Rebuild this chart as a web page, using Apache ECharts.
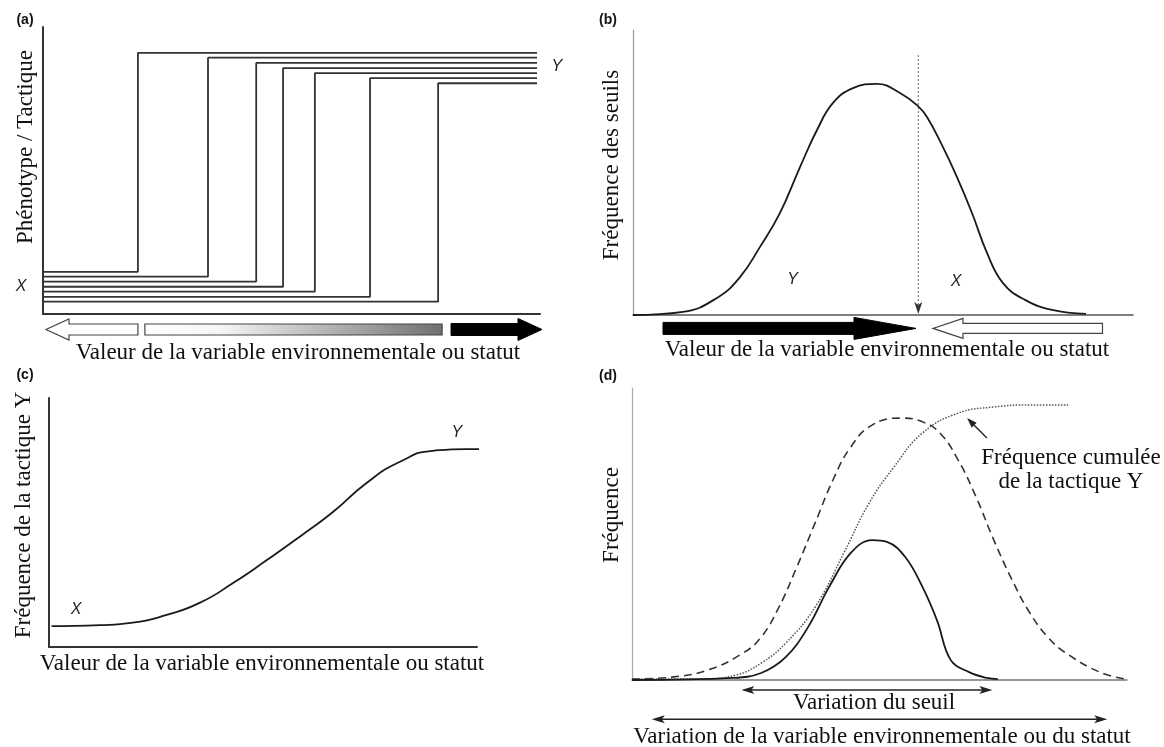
<!DOCTYPE html>
<html><head><meta charset="utf-8">
<script src="https://cdn.jsdelivr.net/npm/echarts@6/dist/echarts.min.js"></script>
<style>html,body{margin:0;padding:0;background:#fff}#chart{width:1164px;height:747px}</style>
</head><body><div id="chart"></div>
<script>
// ---------- Panel (a): step reaction norms ----------
const aThresholds = [19.1, 33.2, 42.9, 48.3, 54.7, 65.8, 79.5];
const aLowLevels  = [14.7, 13.0, 11.3, 9.5, 7.8, 6.0, 4.3];
const aHighLevels = [91.0, 89.3, 87.5, 85.7, 83.9, 82.2, 80.4];
const aLineEnd = 99.4;
const aArrowWhite = [19.1, 0.6];   // [tail, tip]
const aGradientBar = [20.5, 80.3];
const aArrowBlack = [82.1, 100.4];
const aArrowLevel = -5.4;
const aLetters = ['X', 'Y'];
const aLetterX = [-4.4, 103.4];
const aLetterY = [9.4, 86.1];

// ---------- Panel (b): threshold frequency ----------
const bCurveX = [0, 10, 16.8, 21.4, 25.4, 29.4, 33.4, 36.8, 40, 44, 48.8, 53.4, 57, 58.8, 61.8, 64.8, 67.8, 70.8, 74, 78.4, 83.8, 90.6];
const bCurveY = [0, 1.1, 6, 13.3, 23.9, 35.8, 51.9, 64.9, 74.4, 79.6, 81.1, 77.9, 73.3, 69.5, 59.6, 48.4, 35.8, 21.8, 11.2, 5.3, 1.8, 0.4];
const bThreshold = [57.06, 91.2, 0]; // x, top, bottom
const bArrowBlack = [6, 56.6];
const bArrowWhite = [93.9, 60];
const bArrowLevel = -4.7;
const bLetters = ['Y', 'X'];
const bLetterX = [31.9, 64.6];
const bLetterY = [12.3, 11.7];

// ---------- Panel (c): frequency of tactic Y ----------
const cCurveX = [0.6, 11.9, 19.6, 27.5, 35.3, 43, 50.9, 58.6, 66.4, 74.2, 82, 89.7, 97.6, 104.6];
const cCurveY = [8.4, 8.8, 9.8, 12.9, 17.8, 25.7, 34.9, 44.3, 54.3, 65.9, 74.4, 78.8, 79.5, 79.5];
const cLetters = ['X', 'Y'];
const cLetterX = [6.3, 95.3];
const cLetterY = [14.9, 86.1];

// ---------- Panel (d): distributions ----------
const dDashedX = [0, 8.1, 15.3, 22.4, 26.1, 29.7, 33.3, 37, 40.6, 44.2, 48.5, 54.3, 58.7, 62.2, 65.9, 69.5, 73.1, 76.8, 80.4, 84, 87.7, 94.9, 100];
const dDashedY = [0.3, 1, 3.4, 9.2, 14.7, 25, 38.7, 53.8, 68.5, 79.8, 87.3, 89.7, 88.4, 84.6, 75.3, 62.7, 47.9, 34.2, 22.9, 14.7, 9.2, 2.4, 0.3];
const dCumX = [0, 13.7, 21, 26.1, 31.1, 37, 42.8, 47.9, 52.9, 58.7, 65.9, 73.1, 80.4, 88.1];
const dCumY = [0.3, 0.3, 1.7, 5.8, 12.7, 25, 43.5, 60.6, 72.9, 84.6, 91.4, 93.5, 94.2, 94.2];
const dSolidX = [0, 20.3, 26.1, 31.1, 35.6, 39.8, 44.2, 48.5, 51.5, 55.2, 58.7, 61.6, 64.4, 68.1, 71.7, 73.9];
const dSolidY = [0, 0.7, 2.4, 7.9, 18.2, 31.8, 43.5, 47.9, 47.3, 42.1, 31.8, 20.5, 6.8, 2.7, 0.7, 0.3];
const dSeuilArrow = [22.1, 72.8, -3.4];
const dEnvArrow = [4.0, 96.0, -13.4];
const dPointer = [71.7, 82.9, 67.7, 89.7];

const SERIF = '"Liberation Serif","Times New Roman",serif';
const SANS = '"Liberation Sans",Arial,sans-serif';
const zip = (xs, ys) => xs.map((x, i) => [x, ys[i]]);

function axisPair(idx, xColor, xW, yColor, yW) {
  return {
    x: {type:'value', gridIndex:idx, min:0, max:100, axisLine:{show:true, onZero:false, lineStyle:{color:xColor, width:xW}}, axisTick:{show:false}, axisLabel:{show:false}, splitLine:{show:false}},
    y: {type:'value', gridIndex:idx, min:0, max:100, axisLine:{show:true, onZero:false, lineStyle:{color:yColor, width:yW}}, axisTick:{show:false}, axisLabel:{show:false}, splitLine:{show:false}}
  };
}
const ax = [axisPair(0,'#333',2,'#333',2), axisPair(1,'#555',1.5,'#999',1.2), axisPair(2,'#333',2,'#333',2), axisPair(3,'#777',1.5,'#aaa',1.2)];

function lineSeries(g, data, style, extra) {
  return Object.assign({type:'line', xAxisIndex:g, yAxisIndex:g, data:data, symbol:'none', showSymbol:false, silent:true, animation:false, lineStyle:style}, extra || {});
}

function blockArrow(g, tail, tip, level, o) {
  return {type:'custom', xAxisIndex:g, yAxisIndex:g, silent:true, animation:false, clip:false,
    encode:{x:[0,1], y:2}, data:[[tail, tip, level]],
    renderItem: (params, api) => {
      const p1 = api.coord([api.value(0), api.value(2)]);
      const p2 = api.coord([api.value(1), api.value(2)]);
      const dir = p2[0] > p1[0] ? 1 : -1;
      const xb = p2[0] - dir * o.headL, y = p1[1];
      const pts = [[p1[0], y - o.bodyH/2], [xb, y - o.bodyH/2], [xb, y - o.headH/2], [p2[0], y], [xb, y + o.headH/2], [xb, y + o.bodyH/2], [p1[0], y + o.bodyH/2]];
      return {type:'polygon', shape:{points:pts}, style:{fill:o.fill, stroke:o.stroke, lineWidth:o.lw}};
    }};
}

function gradientBar(g, range, level) {
  return {type:'custom', xAxisIndex:g, yAxisIndex:g, silent:true, animation:false, clip:false,
    encode:{x:[0,1], y:2}, data:[[range[0], range[1], level]],
    renderItem: (params, api) => {
      const p1 = api.coord([api.value(0), api.value(2)]);
      const p2 = api.coord([api.value(1), api.value(2)]);
      return {type:'rect', shape:{x:p1[0], y:p1[1]-5.5, width:p2[0]-p1[0], height:11},
        style:{fill:new echarts.graphic.LinearGradient(0,0,1,0,[{offset:0,color:'#ffffff'},{offset:0.25,color:'#f6f6f6'},{offset:1,color:'#6f6f6f'}]), stroke:'#444', lineWidth:1.2}};
    }};
}

function letters(g, names, xs, ys) {
  return {type:'custom', xAxisIndex:g, yAxisIndex:g, silent:true, animation:false, clip:false,
    encode:{x:0, y:1}, data:zip(xs, ys),
    renderItem: (params, api) => {
      const p = api.coord([api.value(0), api.value(1)]);
      return {type:'text', x:p[0], y:p[1], style:{text:names[params.dataIndex], font:'italic 16px ' + SANS, fill:'#222', align:'center', verticalAlign:'middle'}};
    }};
}

function doubleArrow(g, arr) {
  return {type:'custom', xAxisIndex:g, yAxisIndex:g, silent:true, animation:false, clip:false,
    encode:{x:[0,1], y:2}, data:[arr],
    renderItem: (params, api) => {
      const p1 = api.coord([api.value(0), api.value(2)]);
      const p2 = api.coord([api.value(1), api.value(2)]);
      const y = p1[1], L = 13, H = 4;
      return {type:'group', children:[
        {type:'line', shape:{x1:p1[0]+4, y1:y, x2:p2[0]-4, y2:y}, style:{stroke:'#222', lineWidth:1.5}},
        {type:'polygon', shape:{points:[[p1[0], y], [p1[0]+L, y-H], [p1[0]+L-3, y], [p1[0]+L, y+H]]}, style:{fill:'#222'}},
        {type:'polygon', shape:{points:[[p2[0], y], [p2[0]-L, y-H], [p2[0]-L+3, y], [p2[0]-L, y+H]]}, style:{fill:'#222'}}
      ]};
    }};
}

const series = [];
// (a)
aThresholds.forEach((t, i) => {
  series.push(lineSeries(0, [[0, aLowLevels[i]], [t, aLowLevels[i]], [t, aHighLevels[i]], [aLineEnd, aHighLevels[i]]], {color:'#333', width:1.8}));
});
series.push(blockArrow(0, aArrowWhite[0], aArrowWhite[1], aArrowLevel, {bodyH:11, headH:21, headL:23, fill:'#fff', stroke:'#444', lw:1.2}));
series.push(gradientBar(0, aGradientBar, aArrowLevel));
series.push(blockArrow(0, aArrowBlack[0], aArrowBlack[1], aArrowLevel, {bodyH:12, headH:22, headL:24, fill:'#000', stroke:'#000', lw:1}));
series.push(letters(0, aLetters, aLetterX, aLetterY));
// (b)
series.push(lineSeries(1, zip(bCurveX, bCurveY), {color:'#1a1a1a', width:1.8}, {smooth:0.45}));
series.push({type:'custom', xAxisIndex:1, yAxisIndex:1, silent:true, animation:false, clip:false,
  encode:{x:0, y:[1,2]}, data:[bThreshold],
  renderItem: (params, api) => {
    const top = api.coord([api.value(0), api.value(1)]);
    const bot = api.coord([api.value(0), api.value(2)]);
    return {type:'group', children:[
      {type:'line', shape:{x1:top[0], y1:top[1], x2:bot[0], y2:bot[1]-6}, style:{stroke:'#666', lineWidth:1, lineDash:[2,2]}},
      {type:'polygon', shape:{points:[[bot[0], bot[1]-1], [bot[0]-4, bot[1]-13], [bot[0], bot[1]-10], [bot[0]+4, bot[1]-13]]}, style:{fill:'#333'}}
    ]};
  }});
series.push(blockArrow(1, bArrowBlack[0], bArrowBlack[1], bArrowLevel, {bodyH:12, headH:22, headL:62, fill:'#000', stroke:'#000', lw:1}));
series.push(blockArrow(1, bArrowWhite[0], bArrowWhite[1], bArrowLevel, {bodyH:10, headH:20, headL:30, fill:'#fff', stroke:'#444', lw:1.2}));
series.push(letters(1, bLetters, bLetterX, bLetterY));
// (c)
series.push(lineSeries(2, zip(cCurveX, cCurveY), {color:'#1a1a1a', width:1.8}, {smooth:0.55, clip:false}));
series.push(letters(2, cLetters, cLetterX, cLetterY));
// (d)
series.push(lineSeries(3, zip(dDashedX, dDashedY), {color:'#333', width:1.6, type:[8,5]}, {smooth:0.45}));
series.push(lineSeries(3, zip(dCumX, dCumY), {color:'#555', width:1.5, type:[1.5,1.5]}, {smooth:0.45}));
series.push(lineSeries(3, zip(dSolidX, dSolidY), {color:'#1a1a1a', width:1.8}, {smooth:0.4}));
series.push(doubleArrow(3, dSeuilArrow));
series.push(doubleArrow(3, dEnvArrow));
series.push({type:'custom', xAxisIndex:3, yAxisIndex:3, silent:true, animation:false, clip:false,
  encode:{x:[0,2], y:[1,3]}, data:[dPointer],
  renderItem: (params, api) => {
    const a = api.coord([api.value(0), api.value(1)]);
    const b = api.coord([api.value(2), api.value(3)]);
    const ang = Math.atan2(b[1]-a[1], b[0]-a[0]);
    const L = 10, H = 3.5, c = Math.cos(ang), s = Math.sin(ang);
    const bx = b[0] - L*c, by = b[1] - L*s;
    return {type:'group', children:[
      {type:'line', shape:{x1:a[0], y1:a[1], x2:bx, y2:by}, style:{stroke:'#222', lineWidth:1.4}},
      {type:'polygon', shape:{points:[[b[0], b[1]], [bx - H*s, by + H*c], [bx + H*s, by - H*c]]}, style:{fill:'#222'}}
    ]};
  }});

function txt(x, y, text, font, rot) {
  return {type:'text', x:x, y:y, rotation:rot || 0, silent:true,
    style:{text:text, font:font, fill:'#111', align:'center', verticalAlign:'middle'}};
}
const F = '23px ' + SERIF;
const graphic = [
  txt(25, 20, '(a)', 'bold 14px ' + SANS),
  txt(608, 20, '(b)', 'bold 14px ' + SANS),
  txt(25, 375, '(c)', 'bold 14px ' + SANS),
  txt(608, 376, '(d)', 'bold 14px ' + SANS),
  txt(26, 147, 'Phénotype / Tactique', F, Math.PI/2),
  txt(612, 165, 'Fréquence des seuils', F, Math.PI/2),
  txt(24, 515, 'Fréquence de la tactique Y', F, Math.PI/2),
  txt(612, 515, 'Fréquence', F, Math.PI/2),
  txt(298, 353, 'Valeur de la variable environnementale ou statut', F),
  txt(887, 350, 'Valeur de la variable environnementale ou statut', F),
  txt(262, 664, 'Valeur de la variable environnementale ou statut', F),
  txt(874, 703, 'Variation du seuil', F),
  txt(882, 737, 'Variation de la variable environnementale ou du statut', F),
  txt(1071, 458, 'Fréquence cumulée', F),
  txt(1071, 482, 'de la tactique Y', F)
];

const chart = echarts.init(document.getElementById('chart'), null, {renderer:'canvas'});
chart.setOption({
  backgroundColor:'#ffffff',
  animation:false,
  grid:[
    {left:43, top:27, width:497, height:287},
    {left:633, top:30, width:500, height:285},
    {left:49, top:398, width:428, height:249},
    {left:632, top:388, width:495, height:292}
  ],
  xAxis: ax.map(a => a.x),
  yAxis: ax.map(a => a.y),
  series: series,
  graphic: graphic
});
</script></body></html>
